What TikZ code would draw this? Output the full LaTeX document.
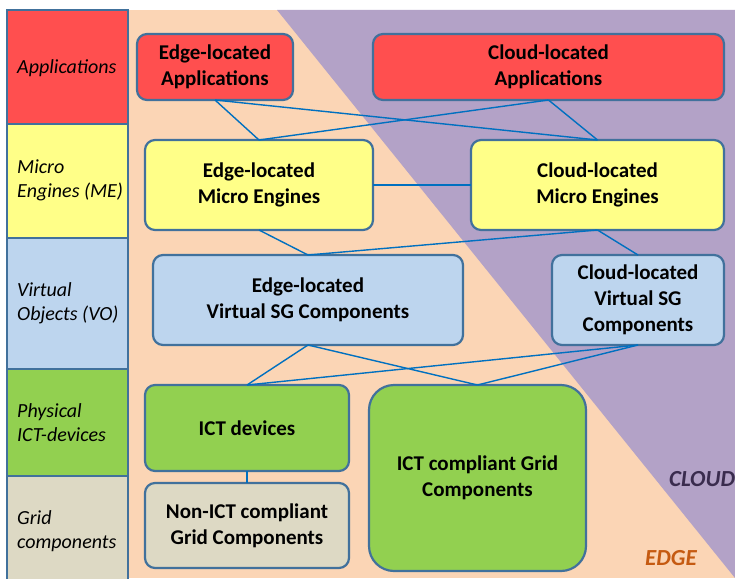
\documentclass[tikz,border=0pt]{standalone}
\usepackage{fontspec}
\setmainfont{Carlito}
\usetikzlibrary{positioning}
\definecolor{edgebg}{HTML}{FBD5B5}
\definecolor{cloudbg}{HTML}{B3A2C7}
\definecolor{apred}{HTML}{FF4F4F}
\definecolor{meyel}{HTML}{FFFF88}
\definecolor{voblue}{HTML}{BDD5EE}
\definecolor{ictgreen}{HTML}{92D050}
\definecolor{gridgray}{HTML}{DDD9C4}
\definecolor{frameblue}{HTML}{41719C}
\definecolor{linkblue}{HTML}{0070C0}
\definecolor{cloudtxt}{HTML}{3A2C4E}
\definecolor{edgetxt}{HTML}{C55A11}
\tikzstyle{box}=[draw=frameblue,line width=2.2pt,rounded corners=10pt,align=center,
                inner sep=0,outer sep=0,font=\fontsize{21}{26}\selectfont\bfseries]
\tikzstyle{band}=[draw=frameblue,line width=2.2pt]
\tikzstyle{lbl}=[anchor=west,align=left,inner sep=0,font=\fontsize{20}{24}\selectfont\itshape]
\tikzstyle{wire}=[draw=linkblue,line width=1.4pt]
\tikzstyle{zone}=[anchor=west,inner sep=0,font=\fontsize{23}{27}\selectfont\bfseries\itshape]

\begin{document}
\begin{tikzpicture}[x=1pt,y=-1pt]
\useasboundingbox (0,0) rectangle (735,578);
% edge and cloud areas
\fill[edgebg] (128,10) rectangle (735,578);
\fill[cloudbg] (277,10) -- (735,10) -- (735,578) -- cycle;
% layer column
\filldraw[band,fill=apred] (7,10) rectangle (128,124);
\filldraw[band,fill=meyel] (7,124) rectangle (128,238);
\filldraw[band,fill=voblue] (7,238) rectangle (128,369);
\filldraw[band,fill=ictgreen] (7,369) rectangle (128,476);
\filldraw[band,fill=gridgray] (7,476) rectangle (128,590);
\node[lbl] (lapp) at (17,68) {Applications};
\node[lbl] (lme) at (17,180) {Micro\\Engines (ME)};
\node[lbl] (lvo) at (17,303) {Virtual\\Objects (VO)};
\node[lbl] (lict) at (17,423) {Physical\\ICT-devices};
\node[lbl] (lgrid) at (17,531) {Grid\\components};
% components
\node[box,fill=apred,minimum width=156,minimum height=66] (eapp) at (215,67) {Edge-located\\Applications};
\node[box,fill=apred,minimum width=351,minimum height=66] (capp) at (548.5,67) {Cloud-located\\Applications};
\node[box,fill=meyel,minimum width=228,minimum height=90] (eme) at (259,185) {Edge-located\\Micro Engines};
\node[box,fill=meyel,minimum width=253,minimum height=90] (cme) at (597.5,185) {Cloud-located\\Micro Engines};
\node[box,fill=voblue,minimum width=310,minimum height=90] (evo) at (308,300) {Edge-located\\Virtual SG Components};
\node[box,fill=voblue,minimum width=172,minimum height=90] (cvo) at (638,300) {Cloud-located\\Virtual SG\\Components};
\node[box,fill=ictgreen,minimum width=204,minimum height=86] (ictdev) at (247,428) {ICT devices};
\node[box,fill=gridgray,minimum width=204,minimum height=85] (nonict) at (247,525.5) {Non-ICT compliant\\Grid Components};
\node[box,fill=ictgreen,rounded corners=25pt,minimum width=217,minimum height=186] (ictgrid) at (477.5,478) {ICT compliant Grid\\Components};
% links
\draw[wire] (eapp.south) -- (eme.north);
\draw[wire] (eapp.south) -- (cme.north);
\draw[wire] (capp.south) -- (eme.north);
\draw[wire] (capp.south) -- (cme.north);
\draw[wire] (eme.east) -- (cme.west);
\draw[wire] (eme.south) -- (evo.north);
\draw[wire] (cme.south) -- (evo.north);
\draw[wire] (cme.south) -- (cvo.north);
\draw[wire] (evo.south) -- (ictdev.north);
\draw[wire] (evo.south) -- (ictgrid.north);
\draw[wire] (cvo.south) -- (ictdev.north);
\draw[wire] (cvo.south) -- (ictgrid.north);
\draw[wire] (ictdev.south) -- (nonict.north);
% area names
\node[zone,text=cloudtxt] (cloudname) at (669,479) {CLOUD};
\node[zone,text=edgetxt] (edgename) at (645,558) {EDGE};
\end{tikzpicture}
\end{document}
